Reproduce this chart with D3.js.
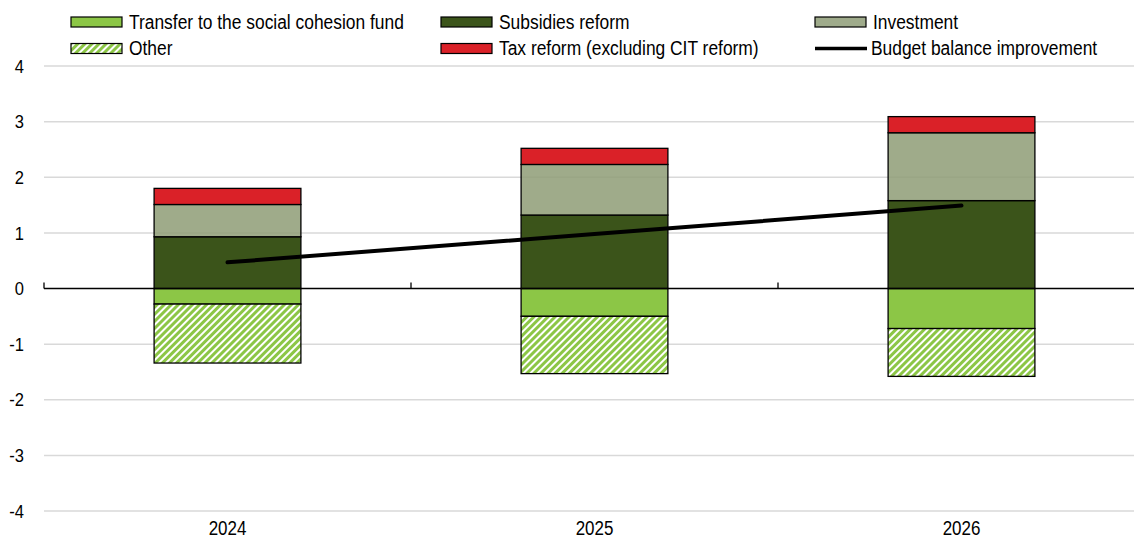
<!DOCTYPE html>
<html>
<head>
<meta charset="utf-8">
<script src="https://cdn.jsdelivr.net/npm/d3@7"></script>
<style>
  body { margin: 0; background: #fff; }
  svg text { font-family: "Liberation Sans", Arial, sans-serif; fill: #000; }
</style>
</head>
<body>
<svg id="chart" width="1134" height="539"></svg>
<script>
// values (% of GDP)
var years = ["2024", "2025", "2026"];
var transfer = [-0.28, -0.50, -0.72];
var other = [-1.06, -1.03, -0.86];
var subsidies = [0.93, 1.32, 1.58];
var investment = [0.58, 0.91, 1.22];
var taxReform = [0.29, 0.29, 0.29];
var balance = [0.47, 0.98, 1.49];
var yTicks = [-4, -3, -2, -1, 0, 1, 2, 3, 4];

var svg = d3.select("#chart");
var W = 1134;
var narrow = 0.87; // reference font is a bit condensed, squeeze Liberation Sans

var x0 = d3.scaleBand().domain(years).range([44, 1145]);
var x = d3.scaleBand().domain(years).range([44, 1145]).paddingInner(0.6).paddingOuter(0.3);
var y = d3.scaleLinear().domain([-4, 4]).range([511, 66]);

var colors = {
  transfer: "#8cc646",
  other: "url(#hatch)",
  subsidies: "#3b541a",
  investment: "#8e9c76",
  tax: "#da2128"
};

// squeezed text helper
function ntext(sel, size, anchor, dy) {
  sel.append("text")
    .attr("transform", "scale(" + narrow + ",1)")
    .attr("dy", dy || "0.35em")
    .attr("text-anchor", anchor || "start")
    .style("font-size", size + "px")
    .text(function(d) { return d.label !== undefined ? d.label : d; });
}

// hatch pattern for "Other"
var defs = svg.append("defs");
var pat = defs.append("pattern")
  .attr("id", "hatch")
  .attr("patternUnits", "userSpaceOnUse")
  .attr("width", 5).attr("height", 5)
  .attr("patternTransform", "rotate(45)");
pat.append("rect").attr("width", 5).attr("height", 5).attr("fill", "#fff");
pat.append("line").attr("x1", 1.5).attr("y1", 0).attr("x2", 1.5).attr("y2", 5)
  .attr("stroke", "#8cc646").attr("stroke-width", 3);

// gridlines
svg.append("g").selectAll("line")
  .data(yTicks.filter(function(d) { return d !== 0; }))
  .enter().append("line")
  .attr("x1", 44).attr("x2", W)
  .attr("y1", function(d) { return y(d); })
  .attr("y2", function(d) { return y(d); })
  .attr("stroke", "#d9d9d9").attr("stroke-width", 1.5);

// y tick labels
svg.append("g").selectAll("g")
  .data(yTicks)
  .enter().append("g")
  .attr("transform", function(d) { return "translate(24," + y(d) + ")"; })
  .call(ntext, 19, "end");

// stacked bars
var rows = years.map(function(yr, i) {
  return { year: yr, transfer: transfer[i], other: other[i], subsidies: subsidies[i], investment: investment[i], tax: taxReform[i] };
});
var keys = ["transfer", "other", "subsidies", "investment", "tax"];
var series = d3.stack().keys(keys).offset(d3.stackOffsetDiverging)(rows);

var layer = svg.append("g").selectAll("g")
  .data(series)
  .enter().append("g")
  .attr("fill", function(d) { return colors[d.key]; })
  .attr("fill-opacity", function(d) { return d.key === "investment" ? 0.85 : 1; });

layer.selectAll("rect")
  .data(function(d) { return d; })
  .enter().append("rect")
  .attr("x", function(d) { return x(d.data.year); })
  .attr("width", x.bandwidth())
  .attr("y", function(d) { return y(Math.max(d[0], d[1])); })
  .attr("height", function(d) { return Math.abs(y(d[0]) - y(d[1])); })
  .attr("stroke", "#000").attr("stroke-width", 1.3);

// zero axis with category ticks
svg.append("line")
  .attr("x1", 44).attr("x2", W)
  .attr("y1", y(0)).attr("y2", y(0))
  .attr("stroke", "#000").attr("stroke-width", 1.3);
var bounds = years.map(function(d) { return x0(d); }).concat([x0.range()[1]]);
svg.append("g").selectAll("line")
  .data(bounds)
  .enter().append("line")
  .attr("x1", function(d) { return d; }).attr("x2", function(d) { return d; })
  .attr("y1", y(0) - 6).attr("y2", y(0))
  .attr("stroke", "#000").attr("stroke-width", 1.3);

// x labels
svg.append("g").selectAll("g")
  .data(years)
  .enter().append("g")
  .attr("transform", function(d) { return "translate(" + (x(d) + x.bandwidth() / 2) + ",534.5)"; })
  .call(ntext, 19.5, "middle", "0");

// budget balance line
var line = d3.line()
  .x(function(d, i) { return x(years[i]) + x.bandwidth() / 2; })
  .y(function(d) { return y(d); });
svg.append("path")
  .datum(balance)
  .attr("d", line)
  .attr("fill", "none")
  .attr("stroke", "#000")
  .attr("stroke-width", 4)
  .attr("stroke-linecap", "round");

// legend
var legend = [
  { label: "Transfer to the social cohesion fund", fill: colors.transfer, x: 71, y: 22 },
  { label: "Subsidies reform", fill: colors.subsidies, x: 441, y: 22 },
  { label: "Investment", fill: "#9fab8b", x: 815, y: 22 },
  { label: "Other", fill: "url(#hatch)", x: 71, y: 48.5 },
  { label: "Tax reform (excluding CIT reform)", fill: colors.tax, x: 441, y: 48.5 },
  { label: "Budget balance improvement", line: true, x: 815, y: 48.5 }
];
var lg = svg.append("g").selectAll("g")
  .data(legend)
  .enter().append("g")
  .attr("transform", function(d) { return "translate(" + d.x + "," + d.y + ")"; });
lg.filter(function(d) { return !d.line; }).append("rect")
  .attr("x", 0).attr("y", -5).attr("width", 51).attr("height", 10)
  .attr("fill", function(d) { return d.fill; })
  .attr("stroke", "#000").attr("stroke-width", 1.2);
lg.filter(function(d) { return d.line; }).append("line")
  .attr("x1", 0).attr("x2", 52).attr("y1", 0).attr("y2", 0)
  .attr("stroke", "#000").attr("stroke-width", 3.5);
lg.append("g")
  .attr("transform", function(d) { return "translate(" + (d.line ? 56 : 58) + ",-0.5)"; })
  .call(ntext, 20);
</script>
</body>
</html>
